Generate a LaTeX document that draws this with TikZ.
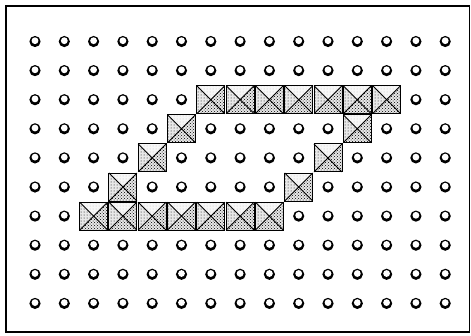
\documentclass[tikz,border=0pt]{standalone}
\usetikzlibrary{patterns}
\tikzstyle{hole} = [fill=black]
\tikzstyle{holetop} = [fill=white]
\tikzstyle{tile} = [draw=black, line width=0.9pt]
\tikzstyle{light} = [fill=gray!6, pattern color=gray!60]
\tikzstyle{dark} = [fill=gray!18, pattern color=gray!80]
\begin{document}
\begin{tikzpicture}[x=1pt,y=-1pt]
\useasboundingbox (0,0) rectangle (471,335);
\draw[line width=1.8pt] (6,6) rectangle (469.5,332);
% holes
\foreach \c in {0,...,14}
  \foreach \r in {0,...,9} {
    \fill[hole] (35+29.3*\c,41.5+29.1*\r) circle (5.6pt);
    \fill[holetop] (35+29.3*\c,40.7+29.1*\r) circle (3.4pt);
  }
% tiles
\foreach \c/\r in {6/2,7/2,8/2,9/2,10/2,11/2,12/2,5/3,11/3,4/4,10/4,3/5,9/5,
                   2/6,3/6,4/6,5/6,6/6,7/6,8/6} {
  \begin{scope}[shift={(35+29.3*\c,41.5+29.1*\r)}]
    \fill[light] (-14,-14) -- (14,-14) -- (0,0) -- cycle;
    \fill[pattern=dots, pattern color=gray!50] (-14,-14) -- (14,-14) -- (0,0) -- cycle;
    \fill[dark] (-14,-14) -- (-14,14) -- (0,0) -- cycle;
    \fill[pattern=dots] (-14,-14) -- (-14,14) -- (0,0) -- cycle;
    \fill[dark] (14,-14) -- (14,14) -- (0,0) -- cycle;
    \fill[pattern=crosshatch dots] (14,-14) -- (14,14) -- (0,0) -- cycle;
    \fill[dark] (-14,14) -- (14,14) -- (0,0) -- cycle;
    \fill[pattern=crosshatch dots] (-14,14) -- (14,14) -- (0,0) -- cycle;
    \draw[tile] (-14,-14) rectangle (14,14);
    \draw[tile] (-14,-14) -- (14,14) (14,-14) -- (-14,14);
  \end{scope}
}
\end{tikzpicture}
\end{document}
